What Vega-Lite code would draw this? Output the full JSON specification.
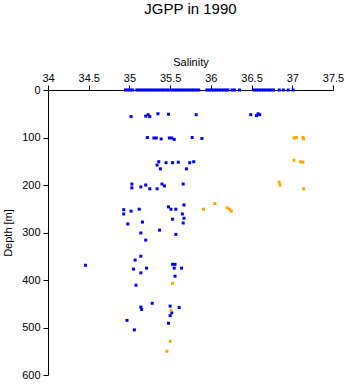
{
  "$schema": "https://vega.github.io/schema/vega-lite/v6.json",
  "autosize": {"type": "none"},
  "padding": {"left": 48, "top": 90, "right": 13, "bottom": 9},
  "width": 285,
  "height": 285,
  "title": {"text": "JGPP in 1990", "font": "Liberation Sans", "fontSize": 15, "fontWeight": "normal", "color": "#000000", "offset": 39},
  "config": {
    "view": {"stroke": null},
    "axis": {"grid": false, "domainColor": "#000000", "tickColor": "#000000", "labelColor": "#000000", "titleColor": "#000000", "labelFont": "Liberation Sans", "titleFont": "Liberation Sans", "labelFontSize": 11, "titleFontSize": 11, "titleFontWeight": "normal", "tickSize": 5, "domainWidth": 1, "tickWidth": 1}
  },
  "data": {"values": [
    {"s": 34.95, "d": 0, "g": "A"}, {"s": 34.98, "d": 0, "g": "A"}, {"s": 35.01, "d": 0, "g": "A"}, {"s": 35.04, "d": 0, "g": "A"},
    {"s": 35.09, "d": 0, "g": "A"}, {"s": 35.12, "d": 0, "g": "A"}, {"s": 35.15, "d": 0, "g": "A"}, {"s": 35.18, "d": 0, "g": "A"},
    {"s": 35.21, "d": 0, "g": "A"}, {"s": 35.24, "d": 0, "g": "A"}, {"s": 35.27, "d": 0, "g": "A"}, {"s": 35.30, "d": 0, "g": "A"},
    {"s": 35.33, "d": 0, "g": "A"}, {"s": 35.36, "d": 0, "g": "A"}, {"s": 35.39, "d": 0, "g": "A"}, {"s": 35.42, "d": 0, "g": "A"},
    {"s": 35.45, "d": 0, "g": "A"}, {"s": 35.48, "d": 0, "g": "A"}, {"s": 35.52, "d": 0, "g": "A"}, {"s": 35.55, "d": 0, "g": "A"},
    {"s": 35.58, "d": 0, "g": "A"}, {"s": 35.61, "d": 0, "g": "A"}, {"s": 35.64, "d": 0, "g": "A"}, {"s": 35.67, "d": 0, "g": "A"},
    {"s": 35.70, "d": 0, "g": "A"}, {"s": 35.73, "d": 0, "g": "A"}, {"s": 35.76, "d": 0, "g": "A"}, {"s": 35.79, "d": 0, "g": "A"},
    {"s": 35.82, "d": 0, "g": "A"}, {"s": 35.85, "d": 0, "g": "A"},
    {"s": 35.95, "d": 0, "g": "A"}, {"s": 35.98, "d": 0, "g": "A"}, {"s": 36.01, "d": 0, "g": "A"}, {"s": 36.04, "d": 0, "g": "A"},
    {"s": 36.07, "d": 0, "g": "A"}, {"s": 36.10, "d": 0, "g": "A"}, {"s": 36.13, "d": 0, "g": "A"}, {"s": 36.16, "d": 0, "g": "A"},
    {"s": 36.19, "d": 0, "g": "A"}, {"s": 36.21, "d": 0, "g": "A"},
    {"s": 36.26, "d": 0, "g": "A"}, {"s": 36.29, "d": 0, "g": "A"}, {"s": 36.35, "d": 0, "g": "A"},
    {"s": 36.53, "d": 0, "g": "A"}, {"s": 36.56, "d": 0, "g": "A"}, {"s": 36.59, "d": 0, "g": "A"}, {"s": 36.62, "d": 0, "g": "A"},
    {"s": 36.65, "d": 0, "g": "A"}, {"s": 36.68, "d": 0, "g": "A"}, {"s": 36.71, "d": 0, "g": "A"}, {"s": 36.74, "d": 0, "g": "A"},
    {"s": 36.77, "d": 0, "g": "A"},
    {"s": 36.84, "d": 0, "g": "A"}, {"s": 36.89, "d": 0, "g": "A"}, {"s": 36.95, "d": 0, "g": "A"}, {"s": 37.01, "d": 0, "g": "A"},

    {"s": 35.02, "d": 56, "g": "A"}, {"s": 35.20, "d": 55, "g": "A"}, {"s": 35.23, "d": 52, "g": "A"}, {"s": 35.25, "d": 56, "g": "A"},
    {"s": 35.35, "d": 50, "g": "A"}, {"s": 35.48, "d": 51, "g": "A"}, {"s": 35.82, "d": 52, "g": "A"}, {"s": 36.49, "d": 52, "g": "A"},
    {"s": 36.56, "d": 54, "g": "A"}, {"s": 36.58, "d": 50, "g": "A"}, {"s": 36.60, "d": 52, "g": "A"},

    {"s": 35.22, "d": 100, "g": "A"}, {"s": 35.30, "d": 101, "g": "A"}, {"s": 35.33, "d": 101, "g": "A"}, {"s": 35.39, "d": 103, "g": "A"},
    {"s": 35.49, "d": 101, "g": "A"}, {"s": 35.52, "d": 101, "g": "A"}, {"s": 35.55, "d": 104, "g": "A"}, {"s": 35.77, "d": 100, "g": "A"},
    {"s": 35.89, "d": 102, "g": "A"},

    {"s": 35.36, "d": 151, "g": "A"}, {"s": 35.34, "d": 158, "g": "A"}, {"s": 35.38, "d": 166, "g": "A"}, {"s": 35.45, "d": 153, "g": "A"},
    {"s": 35.53, "d": 153, "g": "A"}, {"s": 35.60, "d": 152, "g": "A"}, {"s": 35.70, "d": 166, "g": "A"}, {"s": 35.74, "d": 153, "g": "A"},
    {"s": 35.79, "d": 151, "g": "A"},

    {"s": 35.03, "d": 198, "g": "A"}, {"s": 35.03, "d": 206, "g": "A"}, {"s": 35.14, "d": 204, "g": "A"}, {"s": 35.20, "d": 200, "g": "A"},
    {"s": 35.25, "d": 208, "g": "A"}, {"s": 35.34, "d": 208, "g": "A"}, {"s": 35.40, "d": 198, "g": "A"}, {"s": 35.43, "d": 202, "g": "A"},
    {"s": 35.66, "d": 198, "g": "A"},

    {"s": 34.93, "d": 252, "g": "A"}, {"s": 34.93, "d": 261, "g": "A"}, {"s": 35.02, "d": 255, "g": "A"}, {"s": 35.12, "d": 251, "g": "A"},
    {"s": 34.98, "d": 282, "g": "A"}, {"s": 35.16, "d": 278, "g": "A"}, {"s": 35.37, "d": 295, "g": "A"}, {"s": 35.14, "d": 301, "g": "A"},
    {"s": 35.20, "d": 316, "g": "A"}, {"s": 35.48, "d": 246, "g": "A"}, {"s": 35.51, "d": 251, "g": "A"}, {"s": 35.57, "d": 251, "g": "A"},
    {"s": 35.67, "d": 242, "g": "A"}, {"s": 35.65, "d": 261, "g": "A"}, {"s": 35.67, "d": 270, "g": "A"}, {"s": 35.53, "d": 272, "g": "A"},
    {"s": 35.66, "d": 280, "g": "A"}, {"s": 35.57, "d": 304, "g": "A"},

    {"s": 34.46, "d": 369, "g": "A"}, {"s": 35.14, "d": 350, "g": "A"}, {"s": 35.07, "d": 358, "g": "A"}, {"s": 35.05, "d": 377, "g": "A"},
    {"s": 35.21, "d": 375, "g": "A"}, {"s": 35.14, "d": 385, "g": "A"}, {"s": 35.08, "d": 411, "g": "A"}, {"s": 35.53, "d": 367, "g": "A"},
    {"s": 35.56, "d": 367, "g": "A"}, {"s": 35.55, "d": 375, "g": "A"}, {"s": 35.64, "d": 375, "g": "A"}, {"s": 35.56, "d": 392, "g": "A"},
    {"s": 35.28, "d": 449, "g": "A"}, {"s": 35.14, "d": 457, "g": "A"}, {"s": 35.15, "d": 462, "g": "A"}, {"s": 35.50, "d": 455, "g": "A"},
    {"s": 35.61, "d": 458, "g": "A"}, {"s": 35.52, "d": 469, "g": "A"}, {"s": 35.50, "d": 475, "g": "A"}, {"s": 34.97, "d": 485, "g": "A"},
    {"s": 35.48, "d": 491, "g": "A"}, {"s": 35.06, "d": 505, "g": "A"},

    {"s": 37.02, "d": 101, "g": "B"}, {"s": 37.05, "d": 100, "g": "B"}, {"s": 37.13, "d": 100, "g": "B"}, {"s": 37.14, "d": 103, "g": "B"},
    {"s": 37.02, "d": 148, "g": "B"}, {"s": 37.10, "d": 151, "g": "B"}, {"s": 37.13, "d": 152, "g": "B"},
    {"s": 36.84, "d": 194, "g": "B"}, {"s": 36.85, "d": 200, "g": "B"}, {"s": 37.14, "d": 208, "g": "B"},
    {"s": 35.91, "d": 251, "g": "B"}, {"s": 36.05, "d": 239, "g": "B"}, {"s": 36.20, "d": 248, "g": "B"}, {"s": 36.23, "d": 251, "g": "B"},
    {"s": 36.25, "d": 255, "g": "B"},
    {"s": 35.53, "d": 407, "g": "B"}, {"s": 35.51, "d": 464, "g": "B"}, {"s": 35.50, "d": 529, "g": "B"}, {"s": 35.46, "d": 550, "g": "B"}
  ]},
  "mark": {"type": "point", "shape": "square", "filled": true, "size": 9, "opacity": 1},
  "encoding": {
    "x": {"field": "s", "type": "quantitative",
      "scale": {"domain": [34, 37.5], "nice": false, "zero": false},
      "axis": {"orient": "top", "title": "Salinity", "values": [34, 34.5, 35, 35.5, 36, 36.5, 37, 37.5], "format": "~g", "labelPadding": 2, "titlePadding": 5, "labelFlush": false}},
    "y": {"field": "d", "type": "quantitative",
      "scale": {"domain": [0, 600], "reverse": true, "nice": false, "zero": false},
      "axis": {"title": "Depth [m]", "values": [0, 100, 200, 300, 400, 500, 600], "labelPadding": 3, "titlePadding": 8, "labelFlush": false}},
    "color": {"field": "g", "type": "nominal", "scale": {"domain": ["A", "B"], "range": ["#0000ff", "#ffa500"]}, "legend": null}
  }
}
